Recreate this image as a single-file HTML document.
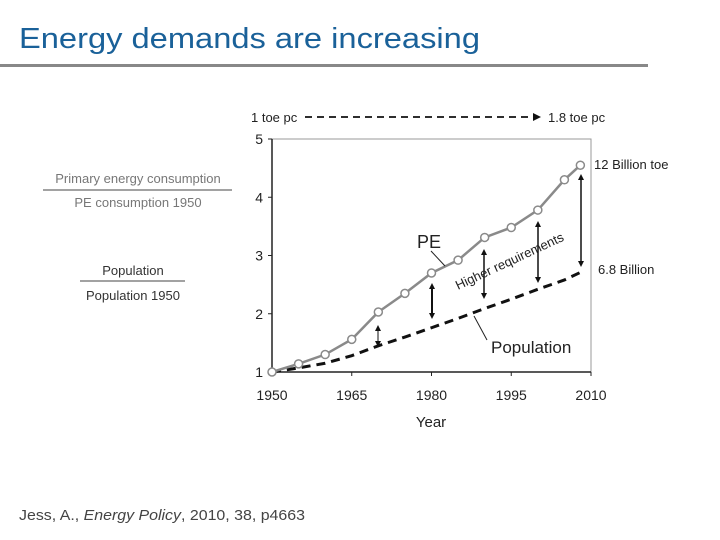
<!DOCTYPE html>
<html><head><meta charset="utf-8"><style>
html,body{margin:0;padding:0;background:#fff;width:720px;height:540px;overflow:hidden}
svg{display:block}
text{font-family:"Liberation Sans",sans-serif}
</style></head><body>
<svg width="720" height="540" viewBox="0 0 720 540">
<text x="19" y="48" font-size="29" fill="#1a6199" textLength="461" lengthAdjust="spacingAndGlyphs">Energy demands are increasing</text>
<rect x="0" y="64" width="648" height="3" fill="#888"/>

<g fill="#777" font-size="13" text-anchor="middle">
<text x="138" y="183">Primary energy consumption</text>
<line x1="43" y1="190" x2="232" y2="190" stroke="#444" stroke-width="1"/>
<text x="138" y="207">PE consumption 1950</text>
</g>
<g fill="#333" font-size="13" text-anchor="middle">
<text x="133" y="275">Population</text>
<line x1="80" y1="281" x2="185" y2="281" stroke="#444" stroke-width="1"/>
<text x="133" y="300">Population 1950</text>
</g>

<g id="chart"></g>
<text x="19" y="520" font-size="15" fill="#444" textLength="286" lengthAdjust="spacingAndGlyphs">Jess, A., <tspan font-style="italic">Energy Policy</tspan>, 2010, 38, p4663</text>
</svg>
<script>
const years=[1950,1955,1960,1965,1970,1975,1980,1985,1990,1995,2000,2005,2008];
const peValues=[1.0,1.14,1.30,1.56,2.03,2.35,2.70,2.92,3.31,3.48,3.78,4.30,4.55];
const popValues=[1.0,1.07,1.15,1.28,1.45,1.60,1.76,1.92,2.09,2.25,2.42,2.58,2.71];
const xTicks=[1950,1965,1980,1995,2010];
const yTicks=[1,2,3,4,5];
const NS="http://www.w3.org/2000/svg";
const g=document.getElementById('chart');
const X0=272,X1=591,Y0=372,Y1=139;
function xs(v){return X0+(v-1950)/60*(X1-X0);}
function ys(v){return Y0-(v-1)/4*(Y0-Y1);}
function mk(tag,attrs,parent){const e=document.createElementNS(NS,tag);for(const k in attrs)e.setAttribute(k,attrs[k]);(parent||g).appendChild(e);return e;}
let f=mk('rect',{x:X0,y:Y1,width:X1-X0,height:Y0-Y1,fill:'none',stroke:'#999','stroke-width':1});


let ya=mk('line',{x1:X0,y1:Y1,x2:X0,y2:Y0,stroke:'#222','stroke-width':1.5});


let xa=mk('line',{x1:X0,y1:Y0,x2:X1,y2:Y0,stroke:'#222','stroke-width':1.5});


yTicks.forEach(v=>{
 mk('line',{x1:X0-4,y1:ys(v),x2:X0,y2:ys(v),stroke:'#222'});
 const t=mk('text',{x:X0-9,y:ys(v)+5,'font-size':14,'text-anchor':'end',fill:'#222'});
 t.textContent=v;
 
 
});
xTicks.forEach(v=>{
 mk('line',{x1:xs(v),y1:Y0,x2:xs(v),y2:Y0+4,stroke:'#222'});
 const t=mk('text',{x:xs(v),y:Y0+28,'font-size':14,'text-anchor':'middle',fill:'#222'});
 t.textContent=v;
 
 
});
let xt=mk('text',{x:431,y:427,'font-size':15,'text-anchor':'middle',fill:'#222'});
xt.textContent='Year';


let pp=mk('polyline',{points:years.map((y,i)=>xs(y)+','+ys(popValues[i])).join(' '),fill:'none',stroke:'#111','stroke-width':3,'stroke-dasharray':'9,6'});


let pl=mk('polyline',{points:years.map((y,i)=>xs(y)+','+ys(peValues[i])).join(' '),fill:'none',stroke:'#8a8a8a','stroke-width':2.5});


years.forEach((y,i)=>{
 const c=mk('circle',{cx:xs(y),cy:ys(peValues[i]),r:4,fill:'#fff',stroke:'#8a8a8a','stroke-width':1.5});
 
 
});
function darrow(x,y1,y2,w){
 mk('line',{x1:x,y1:y1+5,x2:x,y2:y2-5,stroke:'#111','stroke-width':w});
 mk('polygon',{points:`${x-3},${y1+6} ${x+3},${y1+6} ${x},${y1}`,fill:'#111'});
 mk('polygon',{points:`${x-3},${y2-6} ${x+3},${y2-6} ${x},${y2}`,fill:'#111'});
}
darrow(378,325,347,1);
darrow(432,283,319,2);
darrow(484,249,299,1.5);
darrow(538,221,283,1.5);
darrow(581,174,267,1.5);
let ta=mk('line',{x1:305,y1:117,x2:533,y2:117,stroke:'#111','stroke-width':1.8,'stroke-dasharray':'7,5'});


mk('polygon',{points:'533,113 533,121 541,117',fill:'#111'});
function lbl(x,y,s,txt,name,anchor){const t=mk('text',{x:x,y:y,'font-size':s,fill:'#222','text-anchor':anchor||'start'});t.textContent=txt;return t;}
lbl(251,122,13,'1 toe pc','toe-start-label');
lbl(548,122,13,'1.8 toe pc','toe-end-label');
lbl(594,169,13,'12 Billion toe','pe-end-label');
lbl(598,274,13,'6.8 Billion','pop-end-label');
lbl(417,248,18,'PE','pe-label');
lbl(491,353,17,'Population','population-label');
let hr=lbl(458,290,13,'Higher requirements','higher-requirements-label');
hr.setAttribute('transform','rotate(-25 458 290)');
mk('line',{x1:431,y1:251,x2:445,y2:266,stroke:'#222','stroke-width':1});
mk('line',{x1:474,y1:316,x2:487,y2:340,stroke:'#222','stroke-width':1});
</script>
</body></html>
